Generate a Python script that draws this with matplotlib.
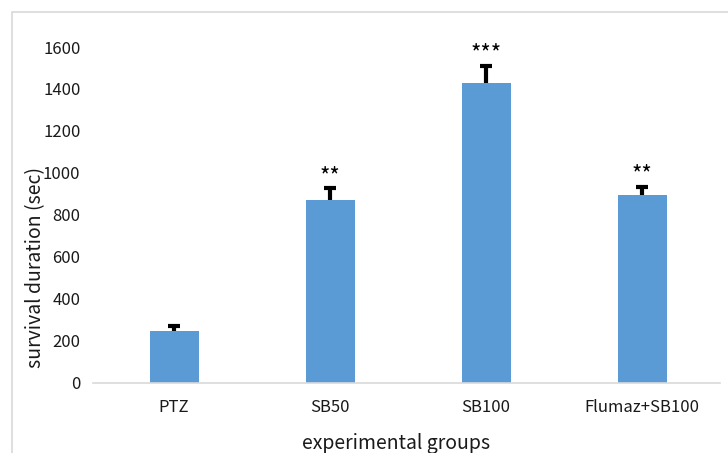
import matplotlib
matplotlib.use("Agg")
import matplotlib.pyplot as plt
from matplotlib.patches import Rectangle

plt.rcParams['font.family'] = ['Noto Sans CJK KR', 'DejaVu Sans']

groups = ['PTZ', 'SB50', 'SB100', 'Flumaz+SB100']
survival = [245, 873, 1428, 893]
errors = [25, 55, 82, 42]
stars = ['', '**', '***', '**']
y_ticks = [0, 200, 400, 600, 800, 1000, 1200, 1400, 1600]

W, H = 728, 453
fig = plt.figure(figsize=(W / 100, H / 100), dpi=100)

# light chart-area frame (cut off at right/bottom like the original)
fig.patches.append(Rectangle((12 / W, -0.1), 1.2, 1 - 12 / H + 0.1,
                             transform=fig.transFigure, fill=False,
                             edgecolor='#d9d9d9', lw=1.2))

ax = fig.add_axes([93 / W, (H - 382.7) / H, (720 - 93) / W, (382.7 - 47) / H])
x = list(range(len(groups)))
tops = [v + e for v, e in zip(survival, errors)]
ax.bar(x, survival, width=0.314, color='#5b9bd5', zorder=2)
# upper-only error bars with a single cap
ax.vlines(x, survival, tops, color='black', lw=3, zorder=3)
ax.plot(x, tops, ls='none', marker='_', ms=9, mew=3, color='black', zorder=3)

for xi, t, s in zip(x, tops, stars):
    if s:
        ax.annotate(s, (xi, t), xytext=(0, 0), textcoords='offset pixels',
                    ha='center', va='bottom', fontsize=16, color='black')

ax.set_xlim(-0.52, 3.5)
ax.set_ylim(0, 1600)
ax.set_yticks(y_ticks)
ax.set_xticks(x)
ax.set_xticklabels(groups)
ax.tick_params(axis='both', length=0, labelsize=12, colors='#1a1a1a')
ax.tick_params(axis='y', pad=9)
ax.tick_params(axis='x', pad=12)
for side in ['top', 'right', 'left']:
    ax.spines[side].set_visible(False)
ax.spines['bottom'].set_color('#d9d9d9')
ax.spines['bottom'].set_linewidth(1.2)

fig.text(36 / W, 1 - 268 / H, 'survival duration (sec)', rotation=90,
         ha='center', va='center', fontsize=14, color='#1a1a1a')
fig.text(396 / W, 1 - 443 / H, 'experimental groups',
         ha='center', va='center', fontsize=14, color='#1a1a1a')

fig.savefig('out.png', dpi=100)
